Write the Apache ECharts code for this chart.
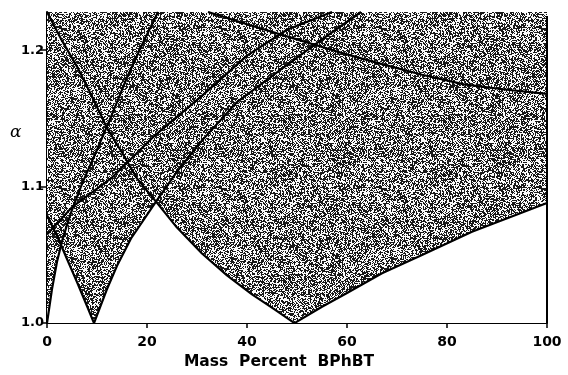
<!DOCTYPE html>
<html>
<head>
<meta charset="utf-8">
<script src="https://cdn.jsdelivr.net/npm/echarts@6/dist/echarts.min.js"></script>
<style>
  html, body { margin: 0; padding: 0; background: #fff; }
  #chart { width: 568px; height: 375px; }
</style>
</head>
<body>
<div id="chart"></div>
<script>
// Axis ranges and ticks
const xTicks = [0, 20, 40, 60, 80, 100];
const yTicks = [1.0, 1.1, 1.2];
const yTop = 1.228;
const rightEdgeTop = 1.225;

// Boundary curves, [mass percent BPhBT, alpha]
const curveOrigin = [[0,1.0],[1,1.025],[2,1.045],[3,1.06],[4,1.072],[5,1.083],[7,1.102],[10,1.127],[13,1.153],[16,1.18],[19,1.204],[22.2,1.228]];
const curveLeftDescent = [[0,1.228],[3,1.207],[6,1.188],[9,1.166],[12,1.143],[15,1.125],[18,1.106],[21.8,1.089],[26,1.07],[31,1.051],[36,1.035],[41,1.021],[45.5,1.01],[49.5,1.0]];
const curveRightRise = [[49.5,1.0],[55,1.012],[60,1.022],[67,1.0365],[75,1.05],[85,1.067],[100,1.088]];
const curveSecondRise = [[9.4,1.0],[12,1.025],[14,1.042],[16.8,1.062],[21.8,1.089],[26,1.111],[30.8,1.133],[38,1.162],[46.8,1.186],[55,1.208],[62.8,1.228]];
const curveSecondFall = [[0,1.079],[2,1.064],[4,1.047],[6,1.03],[8,1.0125],[9.4,1.0]];
const curveUpperRise = [[0,1.065],[5,1.085],[12.8,1.106],[21.4,1.137],[30.8,1.166],[40,1.196],[48,1.215],[57,1.228]];
const curveTopFall = [[32.2,1.228],[40,1.219],[50.8,1.207],[58,1.199],[66.8,1.19],[75,1.182],[83.4,1.175],[92,1.171],[100,1.168]];

// Curves that bound the clear (unshaded) region from above
const lowerBoundaryCurves = [curveOrigin, curveSecondFall, curveSecondRise, curveLeftDescent, curveRightRise];
const drawnCurves = [curveOrigin, curveLeftDescent, curveRightRise, curveSecondRise, curveSecondFall, curveUpperRise, curveTopFall];

function valueAt(curve, x) {
  const n = curve.length;
  if (x < curve[0][0] - 1e-9 || x > curve[n - 1][0] + 1e-9) return null;
  for (let i = 0; i < n - 1; i++) {
    const [x0, y0] = curve[i], [x1, y1] = curve[i + 1];
    if (x >= x0 - 1e-9 && x <= x1 + 1e-9) {
      if (x1 === x0) return Math.min(y0, y1);
      return y0 + (y1 - y0) * (x - x0) / (x1 - x0);
    }
  }
  return curve[n - 1][1];
}

// Lower envelope of the boundary curves (the edge of the clear region)
function lowerEnvelope(curves) {
  const xs = [...new Set(curves.flatMap(c => c.map(p => p[0])))].sort((a, b) => a - b);
  const pts = [];
  const minAt = x => {
    let m = null;
    curves.forEach(c => { const v = valueAt(c, x); if (v !== null && (m === null || v < m)) m = v; });
    return m;
  };
  for (let i = 0; i < xs.length - 1; i++) {
    const a = xs[i], b = xs[i + 1];
    const live = curves.filter(c => c[0][0] <= a + 1e-9 && c[c.length - 1][0] >= b - 1e-9);
    const cuts = [a, b];
    for (let p = 0; p < live.length; p++) {
      for (let q = p + 1; q < live.length; q++) {
        const da = valueAt(live[p], a) - valueAt(live[q], a);
        const db = valueAt(live[p], b) - valueAt(live[q], b);
        if (da * db < 0) cuts.push(a + (b - a) * da / (da - db));
      }
    }
    cuts.sort((u, v) => u - v).forEach(x => {
      let m = null;
      live.forEach(c => { const v = valueAt(c, x); if (m === null || v < m) m = v; });
      if (m === null) m = minAt(x);
      if (!pts.length || Math.abs(pts[pts.length - 1][0] - x) > 1e-9) pts.push([x, m]);
    });
  }
  return pts;
}

// Stippled texture for the shaded region
function stippleTile(size) {
  const c = document.createElement('canvas');
  c.width = c.height = size;
  const ctx = c.getContext('2d');
  const img = ctx.createImageData(size, size);
  let h = 2166136261 >>> 0;
  for (let i = 0; i < size * size; i++) {
    h ^= i; h = Math.imul(h, 16777619) >>> 0; h ^= h >>> 13; h = Math.imul(h, 2246822519) >>> 0; h ^= h >>> 16;
    const dark = (h & 255) < 135;
    const v = dark ? 25 : 250;
    img.data[i * 4] = v; img.data[i * 4 + 1] = v; img.data[i * 4 + 2] = v; img.data[i * 4 + 3] = 255;
  }
  ctx.putImageData(img, 0, 0);
  return c;
}

const chart = echarts.init(document.getElementById('chart'), null, { renderer: 'canvas' });
const boldFont = { fontFamily: 'DejaVu Sans', fontWeight: 'bold', color: '#000' };

const series = [];
// shaded field
series.push({
  type: 'line', data: [[xTicks[0], yTop], [xTicks[xTicks.length - 1], yTop]],
  symbol: 'none', lineStyle: { width: 0 }, silent: true,
  areaStyle: { color: { image: stippleTile(160), repeat: 'repeat' }, opacity: 1, origin: 'start' }
});
// clear region under the boundary curves
series.push({
  type: 'line', data: lowerEnvelope(lowerBoundaryCurves),
  symbol: 'none', lineStyle: { width: 0 }, silent: true,
  areaStyle: { color: '#fff', opacity: 1, origin: 'start' }
});
drawnCurves.forEach(c => series.push({
  type: 'line', data: c, symbol: 'none', silent: true,
  lineStyle: { color: '#000', width: 2.2, join: 'round' }
}));
// right frame edge
series.push({
  type: 'line', data: [[xTicks[xTicks.length - 1], yTicks[0]], [xTicks[xTicks.length - 1], rightEdgeTop]],
  symbol: 'none', silent: true, lineStyle: { color: '#000', width: 2 }
});

chart.setOption({
  animation: false,
  backgroundColor: '#fff',
  grid: { left: 47, right: 21, top: 12, bottom: 50 },
  xAxis: {
    type: 'value', min: xTicks[0], max: xTicks[xTicks.length - 1], interval: 20,
    name: 'Mass  Percent  BPhBT', nameLocation: 'middle', nameGap: 29,
    nameTextStyle: Object.assign({ fontSize: 15.5, padding: [0, 36, 0, 0] }, boldFont),
    axisLine: { lineStyle: { color: '#000', width: 2 } },
    axisTick: { show: true, inside: false, length: 5, lineStyle: { color: '#000', width: 1.5 } },
    axisLabel: Object.assign({ fontSize: 14, margin: 12 }, boldFont),
    splitLine: { show: false }
  },
  yAxis: {
    type: 'value', min: yTicks[0], max: yTop, interval: 0.1,
    axisLine: { show: true, lineStyle: { color: '#000', width: 2 } },
    axisTick: { show: true, inside: false, length: 6, lineStyle: { color: '#000', width: 1.5 } },
    axisLabel: Object.assign({ fontSize: 13, margin: 3, showMaxLabel: false,
      formatter: v => (yTicks.some(t => Math.abs(t - v) < 1e-6) ? v.toFixed(1) : '') }, boldFont),
    splitLine: { show: false }
  },
  graphic: [{
    type: 'text', left: 10, top: 124,
    style: { text: 'α', font: 'italic 17px "DejaVu Serif"', fill: '#000' }
  }],
  series: series
});
</script>
</body>
</html>
